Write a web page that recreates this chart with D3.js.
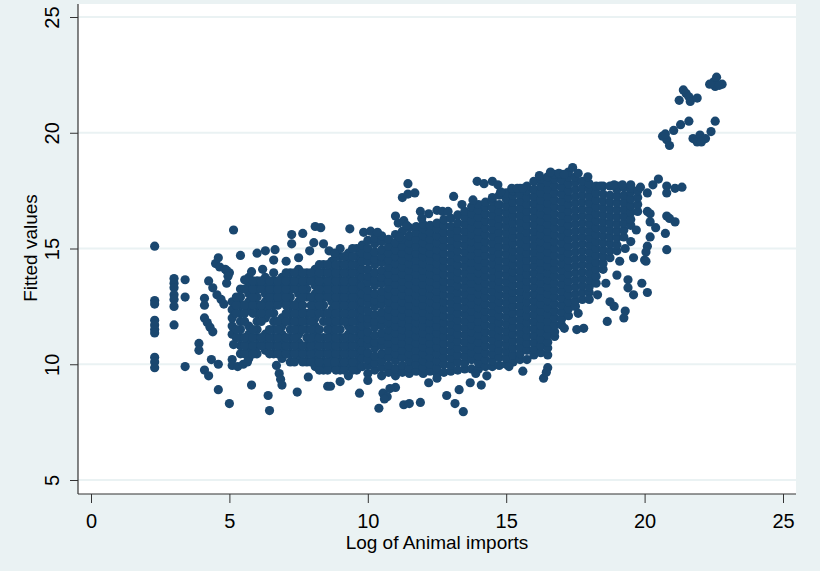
<!DOCTYPE html>
<html>
<head>
<meta charset="utf-8">
<script src="https://cdn.jsdelivr.net/npm/d3@7"></script>
<style>
  html, body { margin: 0; padding: 0; background: #eaf2f3; }
  svg { display: block; }
  text { font-family: "Liberation Sans", Arial, sans-serif; fill: #000; }
</style>
</head>
<body>
<svg id="chart" width="820" height="571"></svg>
<script>
// Axis ticks
const xTicks = [0, 5, 10, 15, 20, 25];
const yTicks = [5, 10, 15, 20, 25];
const xTitle = "Log of Animal imports";
const yTitle = "Fitted values";

// Observations, grouped by shared log-imports value: [x, [fitted values]]
const leftColumns = [
  [5.1, [11.3, 11.65, 12.0, 12.35, 12.7]],
  [5.4, [10.45, 10.8, 11.15, 11.5, 11.85, 12.2, 12.55, 12.9, 13.25]],
  [5.7, [10.25, 10.6, 10.95, 11.3, 11.65, 12.35, 12.7, 13.05, 13.4, 13.75]],
  [6.0, [10.45, 10.8, 11.15, 11.5, 11.85, 12.2, 12.55, 12.9, 13.25, 13.6]],
  [6.3, [10.6, 10.95, 11.3, 12.0, 12.35, 12.7, 13.05, 13.4, 13.75]],
  [6.6, [10.45, 10.8, 11.15, 11.5, 11.85, 12.2, 12.55, 12.9, 13.25, 13.6, 13.95]],
  [6.9, [10.25, 10.6, 10.95, 11.3, 11.65, 12.0, 12.7, 13.05, 13.4, 13.75]],
  [7.2, [10.1, 10.45, 10.8, 11.15, 11.5, 11.85, 12.2, 12.55, 12.9, 13.25, 13.6, 13.95]],
  [7.5, [10.25, 10.6, 10.95, 11.3, 11.65, 12.0, 12.35, 12.7, 13.05, 13.4, 13.75, 14.1]],
  [7.8, [10.1, 10.45, 10.8, 11.15, 11.5, 11.85, 12.2, 12.9, 13.25, 13.6, 13.95]],
  [8.1, [9.9, 10.25, 10.6, 10.95, 11.3, 11.65, 12.0, 12.35, 12.7, 13.05, 13.4, 13.75, 14.1]],
  [8.4, [9.75, 10.1, 10.45, 10.8, 11.15, 11.85, 12.2, 12.55, 12.9, 13.25, 13.6, 13.95, 14.3]],
  [8.7, [9.9, 10.25, 10.6, 10.95, 11.3, 11.65, 12.0, 12.35, 12.7, 13.05, 13.4, 13.75, 14.1, 14.45]],
  [9.0, [9.75, 10.1, 10.45, 10.8, 11.15, 11.5, 11.85, 12.2, 12.55, 12.9, 13.25, 13.6, 13.95, 14.3, 14.65]],
  [9.3, [9.9, 10.25, 10.6, 10.95, 11.3, 11.65, 12.0, 12.35, 12.7, 13.05, 13.4, 13.75, 14.1, 14.45, 14.8]],
  [9.6, [9.75, 10.1, 10.45, 10.8, 11.15, 11.5, 11.85, 12.2, 12.55, 12.9, 13.25, 13.6, 13.95, 14.3, 14.65, 15.0]],
  [9.8, [9.9, 10.25, 10.6, 10.95, 11.3, 11.65, 12.0, 12.35, 12.7, 13.05, 13.4, 13.75, 14.1, 14.45, 14.8, 15.15]]
];

const leftInnerColumns = [
  [5.25, [11.15, 11.5, 12.2, 12.55, 12.9]],
  [5.55, [10.45, 10.8, 11.15, 11.85, 12.2, 12.55, 13.25]],
  [5.85, [10.45, 10.8, 11.15, 11.5, 12.2, 12.55, 12.9, 13.25, 13.6]],
  [6.15, [10.8, 11.15, 11.85, 12.2, 12.55, 13.25, 13.6]],
  [6.45, [10.45, 10.8, 11.15, 11.5, 12.2, 12.55, 12.9, 13.25, 13.6]],
  [6.75, [10.45, 10.8, 11.15, 11.5, 11.85, 12.55, 12.9, 13.25, 13.6]],
  [7.05, [10.45, 10.8, 11.15, 11.85, 12.2, 12.55, 12.9, 13.25, 13.6, 13.95]],
  [7.35, [10.1, 10.45, 10.8, 11.15, 11.5, 11.85, 12.2, 12.55, 13.25, 13.6, 13.95]],
  [7.65, [10.1, 10.45, 10.8, 11.5, 11.85, 12.2, 12.55, 12.9, 13.25, 13.6, 13.95]],
  [7.95, [10.1, 10.45, 10.8, 11.15, 11.5, 11.85, 12.2, 12.55, 12.9, 13.6, 13.95]],
  [8.25, [9.75, 10.1, 10.45, 10.8, 11.15, 11.5, 12.2, 12.55, 12.9, 13.25, 13.6, 13.95, 14.3]],
  [8.55, [9.75, 10.1, 10.45, 10.8, 11.15, 11.5, 11.85, 12.2, 12.9, 13.25, 13.6, 13.95, 14.3]],
  [8.85, [9.75, 10.1, 10.45, 10.8, 11.15, 11.5, 11.85, 12.2, 12.55, 12.9, 13.25, 13.6, 13.95, 14.3, 14.65]],
  [9.15, [9.75, 10.1, 10.45, 10.8, 11.15, 11.85, 12.2, 12.55, 12.9, 13.25, 13.6, 13.95, 14.3, 14.65]],
  [9.45, [9.75, 10.1, 10.45, 10.8, 11.15, 11.5, 11.85, 12.2, 12.55, 12.9, 13.25, 13.6, 13.95, 14.3, 14.65, 15.0]]
];

const coreColumns = [
  [10.0, [9.6, 9.95, 10.2, 10.5, 10.85, 11.1, 11.4, 11.75, 12.0, 12.3, 12.65, 12.9, 13.2, 13.55, 13.8, 14.1, 14.45, 14.7, 15.0, 15.35]],
  [10.25, [9.75, 10.05, 10.35, 10.7, 10.95, 11.25, 11.6, 11.85, 12.15, 12.5, 12.75, 13.05, 13.4, 13.65, 13.95, 14.3, 14.55, 14.85, 15.2, 15.45]],
  [10.5, [9.5, 9.85, 10.15, 10.45, 10.8, 11.05, 11.35, 11.7, 11.95, 12.25, 12.6, 12.85, 13.15, 13.5, 13.75, 14.05, 14.4, 14.65, 14.95, 15.3, 15.55]],
  [10.75, [9.65, 9.95, 10.3, 10.6, 10.9, 11.2, 11.5, 11.8, 12.1, 12.4, 12.7, 13.0, 13.3, 13.6, 13.9, 14.2, 14.5, 14.8, 15.1, 15.4]],
  [11.0, [9.5, 9.8, 10.15, 10.45, 10.75, 11.05, 11.35, 11.65, 11.95, 12.25, 12.55, 12.85, 13.15, 13.45, 13.75, 14.05, 14.35, 14.65, 14.95, 15.25, 15.6]],
  [11.25, [9.65, 9.95, 10.3, 10.6, 10.9, 11.2, 11.5, 11.8, 12.1, 12.4, 12.7, 13.0, 13.3, 13.6, 13.9, 14.2, 14.5, 14.8, 15.1, 15.4, 15.75]],
  [11.5, [9.6, 9.85, 10.15, 10.45, 10.75, 11.05, 11.35, 11.65, 11.95, 12.25, 12.55, 12.85, 13.15, 13.45, 13.75, 14.05, 14.35, 14.65, 14.95, 15.25, 15.55, 15.9]],
  [11.75, [9.7, 10.0, 10.3, 10.6, 10.9, 11.2, 11.5, 11.8, 12.1, 12.4, 12.7, 13.0, 13.3, 13.6, 13.9, 14.2, 14.5, 14.8, 15.1, 15.4, 15.7, 15.95]],
  [12.0, [9.6, 9.85, 10.15, 10.45, 10.75, 11.05, 11.35, 11.65, 11.95, 12.25, 12.55, 12.85, 13.15, 13.45, 13.75, 14.05, 14.35, 14.65, 14.95, 15.25, 15.55, 15.85, 16.05]],
  [12.25, [9.7, 10.0, 10.3, 10.6, 10.9, 11.2, 11.5, 11.8, 12.1, 12.4, 12.7, 13.0, 13.3, 13.6, 13.9, 14.2, 14.5, 14.8, 15.1, 15.4, 15.7, 16.0]],
  [12.5, [9.6, 9.85, 10.15, 10.45, 10.75, 11.05, 11.35, 11.65, 11.95, 12.25, 12.55, 12.85, 13.15, 13.45, 13.75, 14.05, 14.35, 14.65, 14.95, 15.25, 15.55, 15.85, 16.1]],
  [12.75, [9.65, 10.0, 10.3, 10.6, 10.9, 11.2, 11.5, 11.8, 12.1, 12.4, 12.7, 13.0, 13.3, 13.6, 13.9, 14.2, 14.5, 14.8, 15.1, 15.4, 15.7, 16.0, 16.25]],
  [13.0, [9.7, 9.95, 10.25, 10.55, 10.85, 11.15, 11.45, 11.75, 12.05, 12.35, 12.65, 12.95, 13.25, 13.55, 13.85, 14.15, 14.45, 14.75, 15.05, 15.35, 15.65, 15.95, 16.3]],
  [13.25, [9.75, 10.1, 10.4, 10.7, 11.0, 11.3, 11.6, 11.9, 12.2, 12.5, 12.8, 13.1, 13.4, 13.7, 14.0, 14.3, 14.6, 14.9, 15.2, 15.5, 15.8, 16.1, 16.45]],
  [13.5, [9.8, 10.05, 10.35, 10.65, 10.95, 11.25, 11.55, 11.85, 12.15, 12.45, 12.75, 13.05, 13.35, 13.65, 13.95, 14.25, 14.55, 14.85, 15.15, 15.45, 15.75, 16.05, 16.35, 16.6]],
  [13.75, [9.8, 10.2, 10.5, 10.8, 11.1, 11.4, 11.7, 12.0, 12.3, 12.6, 12.9, 13.2, 13.5, 13.8, 14.1, 14.4, 14.7, 15.0, 15.3, 15.6, 15.9, 16.2, 16.5, 16.8]],
  [14.0, [9.8, 10.05, 10.35, 10.65, 10.95, 11.25, 11.55, 11.85, 12.15, 12.45, 12.75, 13.05, 13.35, 13.65, 13.95, 14.25, 14.55, 14.85, 15.15, 15.45, 15.75, 16.05, 16.35, 16.65, 16.9]],
  [14.25, [9.9, 10.2, 10.5, 10.8, 11.1, 11.4, 11.7, 12.0, 12.3, 12.6, 12.9, 13.2, 13.5, 13.8, 14.1, 14.4, 14.7, 15.0, 15.3, 15.6, 15.9, 16.2, 16.5, 16.8, 17.0]],
  [14.5, [9.9, 10.15, 10.45, 10.75, 11.05, 11.35, 11.65, 11.95, 12.25, 12.55, 12.85, 13.15, 13.45, 13.75, 14.05, 14.35, 14.65, 14.95, 15.25, 15.55, 15.85, 16.15, 16.45, 16.75, 17.05, 17.2]],
  [14.75, [9.95, 10.3, 10.6, 10.9, 11.2, 11.5, 11.8, 12.1, 12.4, 12.7, 13.0, 13.3, 13.6, 13.9, 14.2, 14.5, 14.8, 15.1, 15.4, 15.7, 16.0, 16.3, 16.6, 16.9, 17.3]],
  [15.0, [10.0, 10.25, 10.55, 10.85, 11.15, 11.45, 11.75, 12.05, 12.35, 12.65, 12.95, 13.25, 13.55, 13.85, 14.15, 14.45, 14.75, 15.05, 15.35, 15.65, 15.95, 16.25, 16.55, 16.85, 17.15, 17.4]],
  [15.25, [10.1, 10.4, 10.7, 11.0, 11.3, 11.6, 11.9, 12.2, 12.5, 12.8, 13.1, 13.4, 13.7, 14.0, 14.3, 14.6, 14.9, 15.2, 15.5, 15.8, 16.1, 16.4, 16.7, 17.0, 17.3, 17.5]],
  [15.5, [10.2, 10.45, 10.75, 11.05, 11.35, 11.65, 11.95, 12.25, 12.55, 12.85, 13.15, 13.45, 13.75, 14.05, 14.35, 14.65, 14.95, 15.25, 15.55, 15.85, 16.15, 16.45, 16.75, 17.05, 17.35, 17.6]],
  [15.75, [10.2, 10.6, 10.9, 11.2, 11.5, 11.8, 12.1, 12.4, 12.7, 13.0, 13.3, 13.6, 13.9, 14.2, 14.5, 14.8, 15.1, 15.4, 15.7, 16.0, 16.3, 16.6, 16.9, 17.2, 17.5, 17.7]],
  [16.0, [10.4, 10.65, 10.95, 11.25, 11.55, 11.85, 12.15, 12.45, 12.75, 13.05, 13.35, 13.65, 13.95, 14.25, 14.55, 14.85, 15.15, 15.45, 15.75, 16.05, 16.35, 16.65, 16.95, 17.25, 17.55, 17.9]],
  [16.25, [10.5, 10.8, 11.1, 11.4, 11.7, 12.0, 12.3, 12.6, 12.9, 13.2, 13.5, 13.8, 14.1, 14.4, 14.7, 15.0, 15.3, 15.6, 15.9, 16.2, 16.5, 16.8, 17.1, 17.4, 17.7, 18.0]],
  [16.5, [10.4, 10.7, 10.95, 11.25, 11.55, 11.85, 12.15, 12.45, 12.75, 13.05, 13.35, 13.65, 13.95, 14.25, 14.55, 14.85, 15.15, 15.45, 15.75, 16.05, 16.35, 16.65, 16.95, 17.25, 17.55, 17.85, 18.1]],
  [16.75, [11.2, 11.4, 11.7, 12.0, 12.3, 12.6, 12.9, 13.2, 13.5, 13.8, 14.1, 14.4, 14.7, 15.0, 15.3, 15.6, 15.9, 16.2, 16.5, 16.8, 17.1, 17.4, 17.7, 18.0, 18.2]],
  [17.0, [11.7, 11.95, 12.25, 12.55, 12.85, 13.15, 13.45, 13.75, 14.05, 14.35, 14.65, 14.95, 15.25, 15.55, 15.85, 16.15, 16.45, 16.75, 17.05, 17.35, 17.65, 17.95, 18.2]],
  [17.25, [12.1, 12.4, 12.7, 13.0, 13.3, 13.6, 13.9, 14.2, 14.5, 14.8, 15.1, 15.4, 15.7, 16.0, 16.3, 16.6, 16.9, 17.2, 17.5, 17.8, 18.1, 18.3]],
  [17.5, [12.5, 12.75, 13.05, 13.35, 13.65, 13.95, 14.25, 14.55, 14.85, 15.15, 15.45, 15.75, 16.05, 16.35, 16.65, 16.95, 17.25, 17.55, 17.85, 18.1]],
  [17.75, [12.8, 13.1, 13.4, 13.7, 14.0, 14.3, 14.6, 14.9, 15.2, 15.5, 15.8, 16.1, 16.4, 16.7, 17.0, 17.3, 17.6, 17.9]],
  [18.0, [13.1, 13.35, 13.65, 13.95, 14.25, 14.55, 14.85, 15.15, 15.45, 15.75, 16.05, 16.35, 16.65, 16.95, 17.25, 17.55, 17.8]],
  [18.25, [13.5, 13.8, 14.1, 14.4, 14.7, 15.0, 15.3, 15.6, 15.9, 16.2, 16.5, 16.8, 17.1, 17.4, 17.7]],
  [18.5, [14.1, 14.35, 14.65, 14.95, 15.25, 15.55, 15.85, 16.15, 16.45, 16.75, 17.05, 17.35, 17.7]],
  [18.75, [14.6, 14.9, 15.2, 15.5, 15.8, 16.1, 16.4, 16.7, 17.0, 17.3, 17.7]],
  [19.0, [14.9, 15.15, 15.45, 15.75, 16.05, 16.35, 16.65, 16.95, 17.25, 17.55, 17.7]],
  [19.25, [15.5, 15.8, 16.1, 16.4, 16.7, 17.0, 17.3, 17.65]],
  [19.5, [16.0, 16.25, 16.55, 16.85, 17.15, 17.45, 17.6]],
  [19.75, [16.6, 16.9, 17.2, 17.5]]
];

// Individual observations around the edges of the cloud: [x, y]
const leftTail = [
  [2.3, 15.1], [2.3, 12.75], [2.3, 12.6], [2.3, 11.9], [2.3, 11.7], [2.3, 11.5], [2.3, 11.35],
  [2.3, 10.3], [2.3, 10.1], [2.3, 9.85],
  [3.0, 13.7], [3.0, 13.5], [3.0, 13.3], [3.0, 13.0], [3.0, 12.8], [3.0, 12.5], [3.0, 11.7],
  [3.4, 13.65], [3.4, 12.9], [3.4, 9.9], [3.9, 10.9], [3.9, 10.6],
  [4.1, 12.85], [4.1, 12.55], [4.1, 12.0], [4.2, 11.8], [4.3, 11.6], [4.4, 11.4],
  [4.1, 9.75], [4.25, 9.5], [4.35, 10.2], [4.6, 10.0], [4.6, 8.9],
  [4.25, 13.6], [4.5, 14.35], [4.65, 14.2], [4.85, 14.1], [5.0, 13.95], [4.6, 14.6],
  [4.4, 13.3], [4.55, 13.0], [4.7, 12.8], [4.8, 12.6], [4.9, 14.05], [4.95, 13.8], [4.9, 13.5],
  [5.15, 15.8], [5.4, 14.7], [5.0, 8.3], [5.1, 10.2], [5.1, 9.95], [5.3, 9.9], [5.5, 10.0],
  [5.65, 10.1], [5.15, 10.85], [5.8, 9.1], [6.4, 8.65], [6.45, 8.0], [6.7, 9.95], [6.8, 9.6],
  [6.85, 9.35], [6.9, 9.1], [7.45, 8.8], [7.85, 9.45], [8.55, 9.05]
];

const upperEdge = [
  [6.0, 14.8], [6.3, 14.9], [6.65, 14.95], [6.6, 14.5], [7.25, 15.6], [7.65, 15.65], [8.1, 15.95],
  [8.3, 15.9], [8.05, 15.25], [8.4, 15.2], [7.25, 15.2], [7.05, 14.45], [7.9, 14.9], [5.55, 13.65],
  [5.8, 14.0], [6.2, 14.1], [7.5, 14.6], [8.6, 14.9], [9.35, 15.85], [9.85, 15.7], [10.1, 15.75],
  [10.35, 15.7], [9.0, 15.0], [8.8, 14.8],
  [11.45, 17.8], [11.25, 17.2], [11.45, 17.35], [11.7, 17.4], [11.0, 16.4], [11.1, 16.1],
  [11.3, 16.2], [11.4, 16.0], [11.15, 15.5], [11.9, 16.6], [12.2, 16.5], [11.95, 16.3],
  [12.5, 16.65], [12.7, 16.6], [12.9, 16.6], [13.1, 17.25], [13.4, 16.9], [13.8, 17.1],
  [13.95, 17.9], [14.2, 17.8], [14.5, 17.9], [14.7, 17.75], [14.8, 17.45], [15.2, 17.6],
  [15.4, 17.6], [15.6, 17.6], [16.2, 18.15], [16.6, 18.3], [16.9, 18.25], [17.1, 18.2],
  [17.4, 18.5], [17.6, 18.25], [17.95, 18.1], [18.4, 17.7], [18.9, 17.75], [19.2, 17.75],
  [19.5, 17.75], [19.85, 17.65], [20.3, 17.75], [20.5, 18.0], [20.8, 17.7], [21.1, 17.6],
  [21.35, 17.65], [20.8, 17.4], [20.1, 17.4]
];

const rightEdge = [
  [20.1, 16.6], [20.2, 16.5], [20.8, 16.4], [20.9, 16.3], [21.1, 16.15], [20.2, 16.15],
  [20.4, 15.9], [20.75, 15.65], [20.2, 15.5], [20.1, 15.1], [20.0, 14.5], [20.8, 14.95],
  [20.05, 14.85], [20.05, 14.45], [19.6, 14.6], [19.1, 14.45], [19.0, 13.85], [19.4, 13.65],
  [19.4, 13.3], [19.9, 13.5], [20.1, 13.1], [19.6, 13.0], [19.3, 12.3], [19.25, 12.0],
  [18.75, 12.7], [18.65, 11.85], [17.8, 11.55], [17.55, 11.5], [17.1, 11.55], [16.5, 9.85],
  [16.35, 9.4], [16.45, 9.65], [15.6, 9.7], [19.7, 15.8], [19.5, 15.3], [19.3, 15.0],
  [18.6, 13.5], [18.3, 13.0], [18.0, 12.8], [17.6, 12.2], [18.9, 12.5]
];

const topRight = [
  [22.5, 22.2], [22.6, 22.4], [22.8, 22.1], [22.55, 22.0], [22.7, 22.05], [22.35, 22.1],
  [21.4, 21.85], [21.5, 21.7], [21.6, 21.55], [21.25, 21.4], [21.65, 21.35], [21.9, 21.5],
  [21.6, 20.5], [21.3, 20.35], [21.05, 20.1], [20.65, 19.85], [20.8, 19.7], [20.9, 19.45],
  [20.75, 19.95], [22.55, 20.5], [21.75, 19.75], [22.0, 19.9], [22.4, 20.05], [22.2, 19.75],
  [21.9, 19.6], [22.05, 19.6]
];

const lowerEdge = [
  [8.8, 10.1], [8.65, 9.05], [9.7, 8.75], [10.4, 8.1], [10.55, 8.75], [10.7, 8.6], [11.0, 9.0],
  [10.8, 8.95], [10.6, 8.5], [11.3, 8.25], [11.5, 8.3], [11.9, 8.35], [12.2, 9.2], [12.85, 8.65],
  [13.15, 8.3], [13.3, 8.9], [13.45, 7.95], [13.7, 9.2], [14.1, 9.1], [14.3, 9.5], [15.1, 9.9],
  [12.5, 9.4], [13.9, 9.6], [10.0, 9.3], [9.3, 9.5], [9.0, 9.25]
];

// Flatten everything into one list of [x, y] observations
const fromColumns = cols => [].concat(...cols.map(([x, ys]) => ys.map(y => [x, y])));
const observations = []
  .concat(fromColumns(leftColumns), fromColumns(leftInnerColumns), fromColumns(coreColumns))
  .concat(leftTail, upperEdge, rightEdge, topRight, lowerEdge);

const svg = d3.select("#chart");
const W = 820, H = 571;
const plot = { left: 78, right: 796, top: 4, bottom: 494 };

const x = d3.scaleLinear().domain([0, 25]).range([91, 783]);
const y = d3.scaleLinear().domain([5, 25]).range([480, 17]);

// Graph region and plot region backgrounds
svg.append("rect").attr("width", W).attr("height", H).attr("fill", "#eaf2f3");
svg.append("rect")
  .attr("x", plot.left).attr("y", plot.top)
  .attr("width", plot.right - plot.left).attr("height", plot.bottom - plot.top)
  .attr("fill", "#ffffff");

// Horizontal gridlines
svg.append("g").selectAll("line").data(yTicks).join("line")
  .attr("x1", plot.left).attr("x2", plot.right)
  .attr("y1", d => y(d)).attr("y2", d => y(d))
  .attr("stroke", "#eaf2f3").attr("stroke-width", 2);

// Markers
svg.append("g").selectAll("circle").data(observations).join("circle")
  .attr("cx", d => x(d[0])).attr("cy", d => y(d[1]))
  .attr("r", 4.6)
  .attr("fill", "#1a476f");

// Axes
const axisColor = "#333";
const yAxis = svg.append("g")
  .attr("transform", `translate(${plot.left},0)`)
  .call(d3.axisLeft(y).tickValues(yTicks).tickSize(8).tickFormat(d3.format("d")));
yAxis.select(".domain").remove();
yAxis.selectAll(".tick line").attr("stroke", axisColor);
yAxis.selectAll(".tick text")
  .attr("x", null).attr("dy", null)
  .attr("transform", "translate(-19,0) rotate(-90)")
  .attr("text-anchor", "middle")
  .style("font-size", "20px")
  .style("font-family", "'Liberation Sans', Arial, sans-serif")
  .attr("fill", "#000");

const xAxis = svg.append("g")
  .attr("transform", `translate(0,${plot.bottom})`)
  .call(d3.axisBottom(x).tickValues(xTicks).tickSize(9).tickPadding(11).tickFormat(d3.format("d")));
xAxis.select(".domain").remove();
xAxis.selectAll(".tick line").attr("stroke", axisColor);
xAxis.selectAll(".tick text")
  .style("font-size", "20px")
  .style("font-family", "'Liberation Sans', Arial, sans-serif")
  .attr("fill", "#000");

// Axis lines spanning the plot region
svg.append("line")
  .attr("x1", plot.left).attr("x2", plot.left)
  .attr("y1", plot.top).attr("y2", plot.bottom)
  .attr("stroke", axisColor).attr("stroke-width", 1.2);
svg.append("line")
  .attr("x1", plot.left).attr("x2", plot.right)
  .attr("y1", plot.bottom).attr("y2", plot.bottom)
  .attr("stroke", axisColor).attr("stroke-width", 1.2);

// Axis titles
svg.append("text")
  .attr("x", (plot.left + plot.right) / 2).attr("y", 549)
  .attr("text-anchor", "middle")
  .style("font-size", "19px")
  .text(xTitle);
svg.append("text")
  .attr("transform", "translate(37,248) rotate(-90)")
  .attr("text-anchor", "middle")
  .style("font-size", "19px")
  .text(yTitle);
</script>
</body>
</html>
